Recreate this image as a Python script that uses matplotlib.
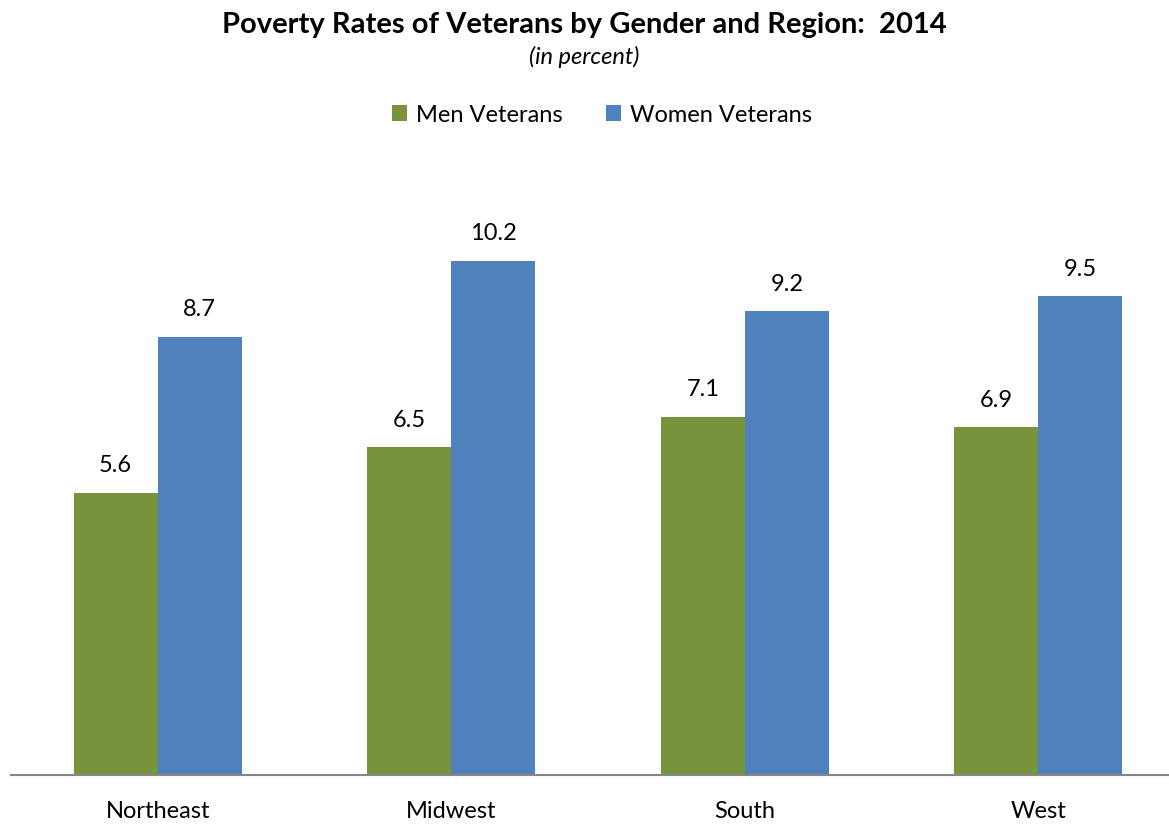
import matplotlib
matplotlib.use("Agg")
import matplotlib.pyplot as plt
import numpy as np

categories = ["Northeast", "Midwest", "South", "West"]
men = [5.6, 6.5, 7.1, 6.9]
women = [8.7, 10.2, 9.2, 9.5]
series_names = ["Men Veterans", "Women Veterans"]
colors = ["#77933C", "#4F81BD"]

plt.rcParams['font.family'] = ['Lato', 'DejaVu Sans']

W, H = 1169, 825
fig = plt.figure(figsize=(W/100, H/100), dpi=100)
ax_left = 11 / W
ax_bottom = (H - 775) / H
ax_w = 1174 / W
ymax = 12.0
ax_h = (ymax * 50.4) / H
ax = fig.add_axes([ax_left, ax_bottom, ax_w, ax_h])

x = np.arange(len(categories))
bw = 84 / 293.5
b1 = ax.bar(x - bw/2, men, width=bw, color=colors[0], label=series_names[0])
b2 = ax.bar(x + bw/2, women, width=bw, color=colors[1], label=series_names[1])

for bars, vals in ((b1, men), (b2, women)):
    for rect, v in zip(bars, vals):
        ax.annotate(f"{v:.1f}", (rect.get_x() + rect.get_width()/2, v),
                    xytext=(0, 12), textcoords="offset points",
                    ha="center", va="bottom", fontsize=17, color="#000000")

ax.set_xlim(-0.5, 3.5)
ax.set_ylim(0, ymax)
ax.set_xticks(x)
ax.set_xticklabels(categories, fontsize=17)
ax.tick_params(axis='x', length=0, pad=19)
ax.set_yticks([])
for s in ["top", "right", "left"]:
    ax.spines[s].set_visible(False)
ax.spines["bottom"].set_color("#868686")
ax.spines["bottom"].set_linewidth(1.5)

fig.text(0.5, 1 - 25/H, "Poverty Rates of Veterans by Gender and Region:  2014",
         ha="center", va="center", fontsize=21, fontweight="bold")
fig.text(0.5, 1 - 57/H, "(in percent)", ha="center", va="center",
         fontsize=17, style="italic")

fig.legend(handles=[b1, b2], labels=series_names, loc="center",
           bbox_to_anchor=(602 / W, 1 - 115/H), ncol=2, frameon=False,
           fontsize=17, handlelength=0.65, handleheight=0.65, handletextpad=0.4,
           columnspacing=1.8)

fig.savefig("out.png", dpi=100)
